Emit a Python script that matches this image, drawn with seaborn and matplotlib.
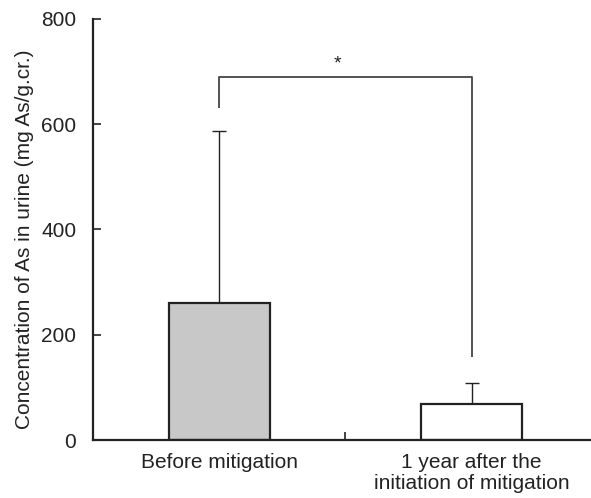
import matplotlib
matplotlib.use("Agg")
import matplotlib.pyplot as plt
import seaborn as sns
import pandas as pd
from matplotlib.ticker import FixedLocator

categories = ["Before mitigation", "1 year after the\ninitiation of mitigation"]
means = [260, 68]
upper_err = [327, 40]
bar_colors = ["#c8c8c8", "#ffffff"]
yticks = [0, 200, 400, 600, 800]
bracket_y = 690
bracket_left_bottom = 630
bracket_right_bottom = 157
sig_label = "*"

sns.set_style("white")
plt.rcParams["font.family"] = ["Liberation Sans", "DejaVu Sans"]

fig = plt.figure(figsize=(5.91, 4.98), dpi=100)
ax = fig.add_axes([93/591, 58/498, 1 - 93/591, (440-19)/498])

df = pd.DataFrame({"cat": categories, "val": means})
sns.barplot(data=df, x="cat", y="val", hue="cat", palette=bar_colors,
            width=0.4, edgecolor="#222222", linewidth=1.6, errorbar=None,
            legend=False, ax=ax, zorder=2)

ax.errorbar([0, 1], means, yerr=[[0, 0], upper_err], fmt="none",
            ecolor="#222222", elinewidth=1.0, capsize=5, capthick=1.0, zorder=1)

# significance bracket
ax.plot([0, 0, 1, 1], [bracket_left_bottom, bracket_y, bracket_y, bracket_right_bottom],
        color="#444444", lw=1.3, solid_capstyle="butt", zorder=3)
ax.text(0.47, bracket_y + 8, sig_label, ha="center", va="bottom", fontsize=14, color="#222222")

ax.set_xlim(-0.5, 1.473)
ax.set_ylim(0, 800)
ax.set_yticks(yticks)
ax.set_xlabel("")
ax.set_ylabel("Concentration of As in urine (mg As/g.cr.)", fontsize=15, color="#222222")
ax.yaxis.set_label_coords(-0.118, 0.476)

for s in ["top", "right"]:
    ax.spines[s].set_visible(False)
for s in ["left", "bottom"]:
    ax.spines[s].set_color("#222222")
    ax.spines[s].set_linewidth(1.6)

ax.tick_params(axis="y", direction="in", length=6, width=1.2, colors="#222222",
               labelsize=15, pad=12, left=True)
ax.tick_params(axis="x", which="major", length=0, labelsize=15, pad=9, colors="#222222")
for lbl in ax.get_xticklabels():
    lbl.set_linespacing(1.15)
ax.xaxis.set_minor_locator(FixedLocator([0.5]))
ax.tick_params(axis="x", which="minor", direction="in", length=6, width=1.2,
               color="#222222", bottom=True)

fig.savefig("out.png", dpi=100)
